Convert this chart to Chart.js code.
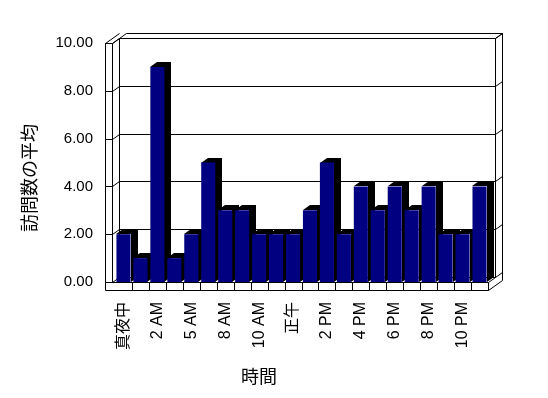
<!DOCTYPE html>
<html>
<head>
<meta charset="utf-8">
<script src="https://cdn.jsdelivr.net/npm/chart.js@4"></script>
<style>
  body { margin: 0; background: #fff; }
  #wrap { width: 548px; height: 398px; }
</style>
</head>
<body>
<div id="wrap"><canvas id="grafico" width="548" height="398"></canvas></div>
<script>
const horas = ["真夜中", "1 AM", "2 AM", "3 AM", "5 AM", "6 AM", "8 AM", "9 AM", "10 AM", "11 AM",
  "正午", "1 PM", "2 PM", "3 PM", "4 PM", "5 PM", "6 PM", "7 PM", "8 PM", "9 PM", "10 PM", "11 PM"];
const visitas = [2, 1, 9, 1, 2, 5, 3, 3, 2, 2, 2, 3, 5, 2, 4, 3, 4, 3, 4, 2, 2, 4];
const ejeMin = 0;
const ejeMax = 10;
const ejePaso = 2;
const tituloX = "時間";
const tituloY = "訪問数の平均";

// profundidad del efecto 3D
const DX = 7, DY = -5;

function linea(ctx, pts) {
  ctx.beginPath();
  ctx.moveTo(pts[0][0] + 0.5, pts[0][1] + 0.5);
  for (let i = 1; i < pts.length; i++) ctx.lineTo(pts[i][0] + 0.5, pts[i][1] + 0.5);
  ctx.stroke();
}

const efecto3d = {
  id: "efecto3d",
  beforeDatasetsDraw(chart) {
    const ctx = chart.ctx;
    const a = chart.chartArea;
    const y = chart.scales.y;
    const x = chart.scales.x;
    const L = Math.round(a.left) - 10, Li = L + 7;
    const R = Math.round(a.right), T = Math.round(a.top), B = Math.round(a.bottom);
    ctx.save();
    ctx.strokeStyle = "#000";
    ctx.lineWidth = 1;

    // pared del fondo
    linea(ctx, [[Li + DX, T + DY], [R + DX, T + DY], [R + DX, B + DY], [Li + DX, B + DY], [Li + DX, T + DY]]);
    linea(ctx, [[Li + DX, T + DY], [Li + 2 * DX, T + 2 * DY], [R + 2 * DX, T + 2 * DY], [R + 2 * DX, B + 8 + 2 * DY]]);
    linea(ctx, [[R + DX, T + DY], [R + 2 * DX, T + 2 * DY]]);

    // pared izquierda
    linea(ctx, [[L, T], [L, B + 8]]);
    linea(ctx, [[Li, T], [Li, B]]);
    linea(ctx, [[L, T], [Li, T], [Li + DX, T + DY]]);
    linea(ctx, [[L, T], [L + 2 * DX, T + 2 * DY]]);

    // lineas de division
    y.ticks.forEach(t => {
      const py = Math.round(y.getPixelForValue(t.value));
      linea(ctx, [[L, py], [Li, py], [Li + DX, py + DY], [R + DX, py + DY], [R + 2 * DX, py + 2 * DY]]);
    });

    // suelo
    linea(ctx, [[L, B], [R, B], [R, B + 8], [L, B + 8]]);
    linea(ctx, [[R, B], [R + DX, B + DY]]);
    linea(ctx, [[R, B + 8], [R + 2 * DX, B + 8 + 2 * DY]]);
    for (let i = 1; i < horas.length; i++) {
      const px = Math.round((x.getPixelForValue(i - 1) + x.getPixelForValue(i)) / 2);
      linea(ctx, [[px, B], [px, B + 8]]);
    }

    // caras laterales y superiores de las barras
    ctx.fillStyle = "#000";
    chart.getDatasetMeta(0).data.forEach(el => {
      const p = el.getProps(["x", "y", "base", "width"], true);
      const l = Math.round(p.x - p.width / 2), r = Math.round(p.x + p.width / 2);
      const top = Math.round(p.y), base = Math.round(p.base);
      ctx.beginPath();
      ctx.moveTo(l, top);
      ctx.lineTo(l + DX, top + DY);
      ctx.lineTo(r + DX, top + DY);
      ctx.lineTo(r + DX, base + DY);
      ctx.lineTo(r, base);
      ctx.lineTo(r, top);
      ctx.closePath();
      ctx.fill();
    });
    ctx.restore();
  },
  afterDraw(chart) {
    const ctx = chart.ctx;
    ctx.save();
    ctx.fillStyle = "#000";
    ctx.font = "18px 'Noto Sans CJK JP'";
    ctx.textAlign = "center";
    ctx.textBaseline = "middle";
    ctx.fillText(tituloX, 259, 376);
    ctx.translate(29, 178);
    ctx.rotate(-Math.PI / 2);
    ctx.fillText(tituloY, 0, 0);
    ctx.restore();
  }
};

new Chart(document.getElementById("grafico"), {
  type: "bar",
  data: {
    labels: horas,
    datasets: [{
      data: visitas,
      backgroundColor: "#000080",
      borderWidth: 0,
      borderSkipped: false,
      barPercentage: 0.83,
      categoryPercentage: 1
    }]
  },
  options: {
    responsive: false,
    animation: false,
    layout: { padding: { top: 43, right: 60, left: 0, bottom: 0 } },
    plugins: {
      legend: { display: false },
      tooltip: { enabled: false }
    },
    scales: {
      x: {
        grid: { display: false },
        border: { display: false },
        afterFit: s => { s.height = 116; },
        ticks: {
          autoSkip: false,
          maxRotation: 90,
          minRotation: 90,
          padding: 12,
          color: "#000",
          font: { family: "'Liberation Sans', 'Noto Sans CJK JP'", size: 16 },
          callback: (v, i) => (i % 2 === 0 ? horas[i] : "")
        }
      },
      y: {
        min: ejeMin,
        max: ejeMax,
        grid: { display: false },
        border: { display: false },
        afterFit: s => { s.width = 115; },
        ticks: {
          stepSize: ejePaso,
          padding: 14,
          color: "#000",
          font: { family: "'Liberation Sans'", size: 15 },
          callback: v => v.toFixed(2)
        }
      }
    }
  },
  plugins: [efecto3d]
});
</script>
</body>
</html>
